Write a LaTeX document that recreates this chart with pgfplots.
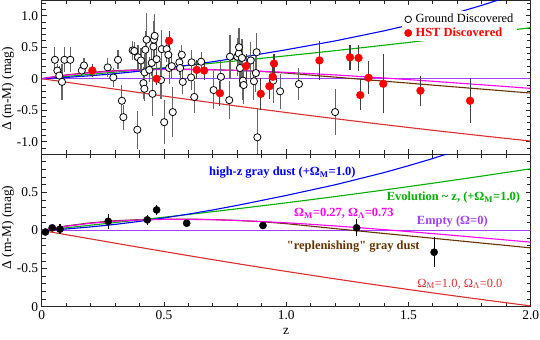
\documentclass[border=0pt]{standalone}
\usepackage{pgfplots}
\usepackage{pgfplotstable}
\pgfplotsset{compat=1.18}
\usepackage{fontspec}
\setmainfont{Liberation Serif}

\definecolor{cRed}{RGB}{220,45,45}
\definecolor{cMag}{RGB}{255,0,240}
\definecolor{cBrown}{RGB}{102,51,0}
\definecolor{cGreen}{RGB}{0,175,0}
\definecolor{cBlue}{RGB}{0,0,255}
\definecolor{cPurple}{RGB}{160,64,255}

\newcommand\tk{\fontsize{13.5}{15}\selectfont}
\newcommand\an{\fontsize{12.5}{14}\selectfont}

\pgfplotstableread{
z red mag brown green blue
0.00 0.0000 0.0000 0.000 0.0000 0.000
0.05 -0.0273 0.0300 0.032 0.0177 0.010
0.10 -0.0548 0.0551 0.060 0.0352 0.020
0.20 -0.1102 0.0949 0.100 0.0698 0.047
0.30 -0.1657 0.1218 0.128 0.1043 0.080
0.40 -0.2209 0.1382 0.143 0.1391 0.120
0.50 -0.2756 0.1460 0.150 0.1744 0.165
0.60 -0.3295 0.1467 0.150 0.2105 0.215
0.70 -0.3827 0.1416 0.143 0.2473 0.270
0.80 -0.4349 0.1318 0.132 0.2851 0.330
0.90 -0.4862 0.1180 0.115 0.3238 0.395
1.00 -0.5366 0.1011 0.090 0.3634 0.460
1.10 -0.5860 0.0815 0.057 0.4040 0.530
1.20 -0.6345 0.0598 0.025 0.4455 0.600
1.30 -0.6820 0.0365 -0.007 0.4880 0.680
1.40 -0.7286 0.0117 -0.039 0.5314 0.760
1.50 -0.7742 -0.0142 -0.070 0.5758 0.850
1.60 -0.8190 -0.0409 -0.102 0.6210 0.945
1.70 -0.8629 -0.0684 -0.133 0.6671 1.050
1.80 -0.9060 -0.0963 -0.165 0.7140 1.165
1.90 -0.9482 -0.1247 -0.196 0.7618 1.290
2.00 -0.9897 -0.1533 -0.228 0.8103 1.420
}\curvetab

\pgfplotstableread{
z v e
0.054 0.30 0.20
0.064 0.13 0.10
0.072 0.05 0.15
0.083 -0.05 0.28
0.093 0.30 0.20
0.117 0.30 0.20
0.164 0.13 0.10
0.173 0.21 0.12
0.270 0.18 0.15
0.293 0.02 0.15
0.312 0.30 0.15
0.328 -0.35 0.25
0.334 -0.61 0.20
0.372 0.45 0.15
0.379 0.44 0.15
0.391 -0.81 0.30
0.394 0.34 0.20
0.406 0.29 0.20
0.416 -0.07 0.25
0.420 -0.16 0.20
0.421 0.10 0.30
0.424 0.46 0.30
0.429 0.62 0.43
0.440 0.14 0.20
0.450 0.25 0.20
0.453 -0.24 0.35
0.457 0.51 0.25
0.459 0.62 0.30
0.462 0.68 0.35
0.470 0.31 0.25
0.488 -0.02 0.30
0.491 0.47 0.30
0.501 -0.69 0.35
0.511 0.47 0.20
0.518 0.38 0.20
0.521 0.17 0.25
0.532 0.20 0.20
0.536 -0.53 0.40
0.563 0.26 0.20
0.566 0.17 0.20
0.573 0.38 0.15
0.577 -0.05 0.20
0.611 0.02 0.20
0.613 0.26 0.20
0.624 -0.29 0.25
0.652 0.27 0.15
0.703 -0.18 0.30
0.733 0.03 0.25
0.767 -0.34 0.30
0.770 0.35 0.35
0.800 0.35 0.30
0.806 0.40 0.30
0.807 0.50 0.30
0.811 0.17 0.30
0.819 0.33 0.30
0.823 -0.03 0.30
0.826 -0.10 0.30
0.855 0.29 0.30
0.868 -0.04 0.30
0.876 0.09 0.30
0.879 0.42 0.30
0.882 -0.93 0.45
0.947 -0.03 0.35
0.975 -0.20 0.28
1.052 -0.085 0.25
1.200 -0.53 0.36
}\groundtab

\pgfplotstableread{
z v e
0.207 0.13 0.10
0.470 0.00 0.10
0.521 0.60 0.15
0.634 0.14 0.15
0.664 0.13 0.15
0.729 -0.23 0.20
0.836 0.20 0.20
0.896 -0.24 0.25
0.931 -0.12 0.20
0.945 0.03 0.20
0.950 0.24 0.15
1.136 0.29 0.31
1.261 0.34 0.20
1.296 0.33 0.20
1.303 -0.26 0.24
1.337 0.015 0.26
1.397 -0.08 0.47
1.549 -0.19 0.24
1.752 -0.35 0.36
}\hsttab

\pgfplotstableread{
z v e
0.015 -0.020 0.035
0.043 0.035 0.040
0.075 0.018 0.070
0.272 0.120 0.100
0.432 0.140 0.070
0.470 0.270 0.070
0.593 0.096 0.050
0.905 0.066 0.050
1.288 0.035 0.110
1.605 -0.285 0.200
}\bintab

\newcommand\curves{%
\addplot[cRed, line width=1.1bp, forget plot] table[x=z,y=red] {\curvetab};
\addplot[cPurple, line width=1.1bp, forget plot] coordinates {(0,0) (2,0)};
\addplot[cBrown, line width=1.1bp, forget plot] table[x=z,y=brown] {\curvetab};
\addplot[cGreen, line width=1.1bp, forget plot] table[x=z,y=green] {\curvetab};
\addplot[cBlue, line width=1.1bp, forget plot] table[x=z,y=blue] {\curvetab};
\addplot[cMag, line width=1.1bp, forget plot] table[x=z,y=mag] {\curvetab};
}

\pgfplotsset{
  panel/.style={
    scale only axis, width=489bp, xmin=0, xmax=2,
    axis line style={black!85, line width=1bp},
    tick style={black!85, line width=0.9bp},
    major tick length=5bp, minor tick length=4bp,
    xtick={0,0.5,1,1.5,2},
    minor xtick={0.1,0.2,0.3,0.4,0.6,0.7,0.8,0.9,1.1,1.2,1.3,1.4,1.6,1.7,1.8,1.9},
    ytick={-1,-0.5,0,0.5,1},
    ticklabel style={font=\tk},
    label style={font=\tk},
    clip=true,
  },
}

\begin{document}
\begin{tikzpicture}[x=1bp,y=1bp]
\useasboundingbox (0,0) rectangle (540,339);

% top panel
\begin{axis}[panel, at={(41.7bp,184.7bp)}, anchor=south west,
  height=154bp, ymin=-1.2, ymax=1.245,
  xticklabels={},
  yticklabels={-1.0,-0.5,0,0.5,1.0},
  minor ytick={-1.2,-1.1,-0.9,-0.8,-0.7,-0.6,-0.4,-0.3,-0.2,-0.1,0.1,0.2,0.3,0.4,0.6,0.7,0.8,0.9,1.1,1.2},
  ylabel={Δ (m-M) (mag)},
  ylabel style={at={(axis description cs:-0.069,0.424)}, anchor=center},
  legend style={at={(rel axis cs:0.737,0.93)}, anchor=north west, fill=white, draw=none,
    inner xsep=2bp, inner ysep=1.5bp, row sep=0.5bp,
    nodes={font=\an, inner sep=1.5bp},
    /tikz/every odd column/.style={column sep=2bp}},
  legend cell align=left,
]
\curves
\addplot[only marks, mark=*, mark size=3.6bp, mark options={fill=white, draw=black, line width=0.8bp},
  legend image code/.code={\draw[black, fill=white, line width=0.8bp] (0bp,0bp) circle (3.3bp);},
  error bars/.cd, y dir=both, y explicit, error mark=none,
  error bar style={black!60, line width=1.1bp}]
  table[x=z, y=v, y error=e] {\groundtab};
\addlegendentry{\an Ground Discovered}
\addplot[only marks, mark=*, mark size=3.9bp, mark options={fill=red, draw=red},
  legend image code/.code={\fill[red] (0bp,0bp) circle (3.7bp);},
  error bars/.cd, y dir=both, y explicit, error mark=none,
  error bar style={black!75, line width=1.1bp}]
  table[x=z, y=v, y error=e] {\hsttab};
\addlegendentry{\an\textcolor{red}{\textbf{HST Discovered}}}
\end{axis}

% bottom panel
\begin{axis}[panel, at={(41.7bp,32.3bp)}, anchor=south west,
  height=152.4bp, ymin=-1, ymax=1,
  xticklabels={0,0.5,1.0,1.5,2.0},
  yticklabels={0,-0.5,0,0.5,},
  minor ytick={-0.9,-0.8,-0.7,-0.6,-0.4,-0.3,-0.2,-0.1,0.1,0.2,0.3,0.4,0.6,0.7,0.8,0.9},
  ylabel={Δ (m-M) (mag)},
  ylabel style={at={(axis description cs:-0.069,0.52)}, anchor=center},
  xlabel={z},
  xlabel style={at={(axis description cs:0.5,-0.164)}, anchor=center},
]
\curves
\addplot[only marks, mark=*, mark size=3.6bp, mark options={fill=black, draw=black},
  error bars/.cd, y dir=both, y explicit, error mark=none,
  error bar style={black, line width=1.1bp}]
  table[x=z, y=v, y error=e] {\bintab};
\node[anchor=west, inner sep=0pt, font=\an\bfseries, text=cBlue] at (axis cs:0.684,0.761) {high-z gray dust (+Ω\textsubscript{M}=1.0)};
\node[anchor=west, inner sep=0pt, font=\an\bfseries, text=cGreen] at (axis cs:1.411,0.429) {Evolution \textasciitilde{} z, (+Ω\textsubscript{M}=1.0)};
\node[anchor=west, inner sep=0pt, font=\an\bfseries, text=cMag] at (axis cs:1.032,0.227) {Ω\textsubscript{M}=0.27, Ω\textsubscript{Λ}=0.73};
\node[anchor=west, inner sep=0pt, font=\an\bfseries, text=cPurple] at (axis cs:1.534,0.118) {Empty (Ω=0)};
\node[anchor=west, inner sep=0pt, font=\an\bfseries, text=cBrown] at (axis cs:1.002,-0.21) {\addfontfeatures{Ligatures=TeXOff}"replenishing" gray dust};
\node[anchor=west, inner sep=0pt, font=\an, text=cRed] at (axis cs:1.536,-0.70) {Ω\textsubscript{M}=1.0, Ω\textsubscript{Λ}=0.0};
\end{axis}
\end{tikzpicture}
\end{document}
